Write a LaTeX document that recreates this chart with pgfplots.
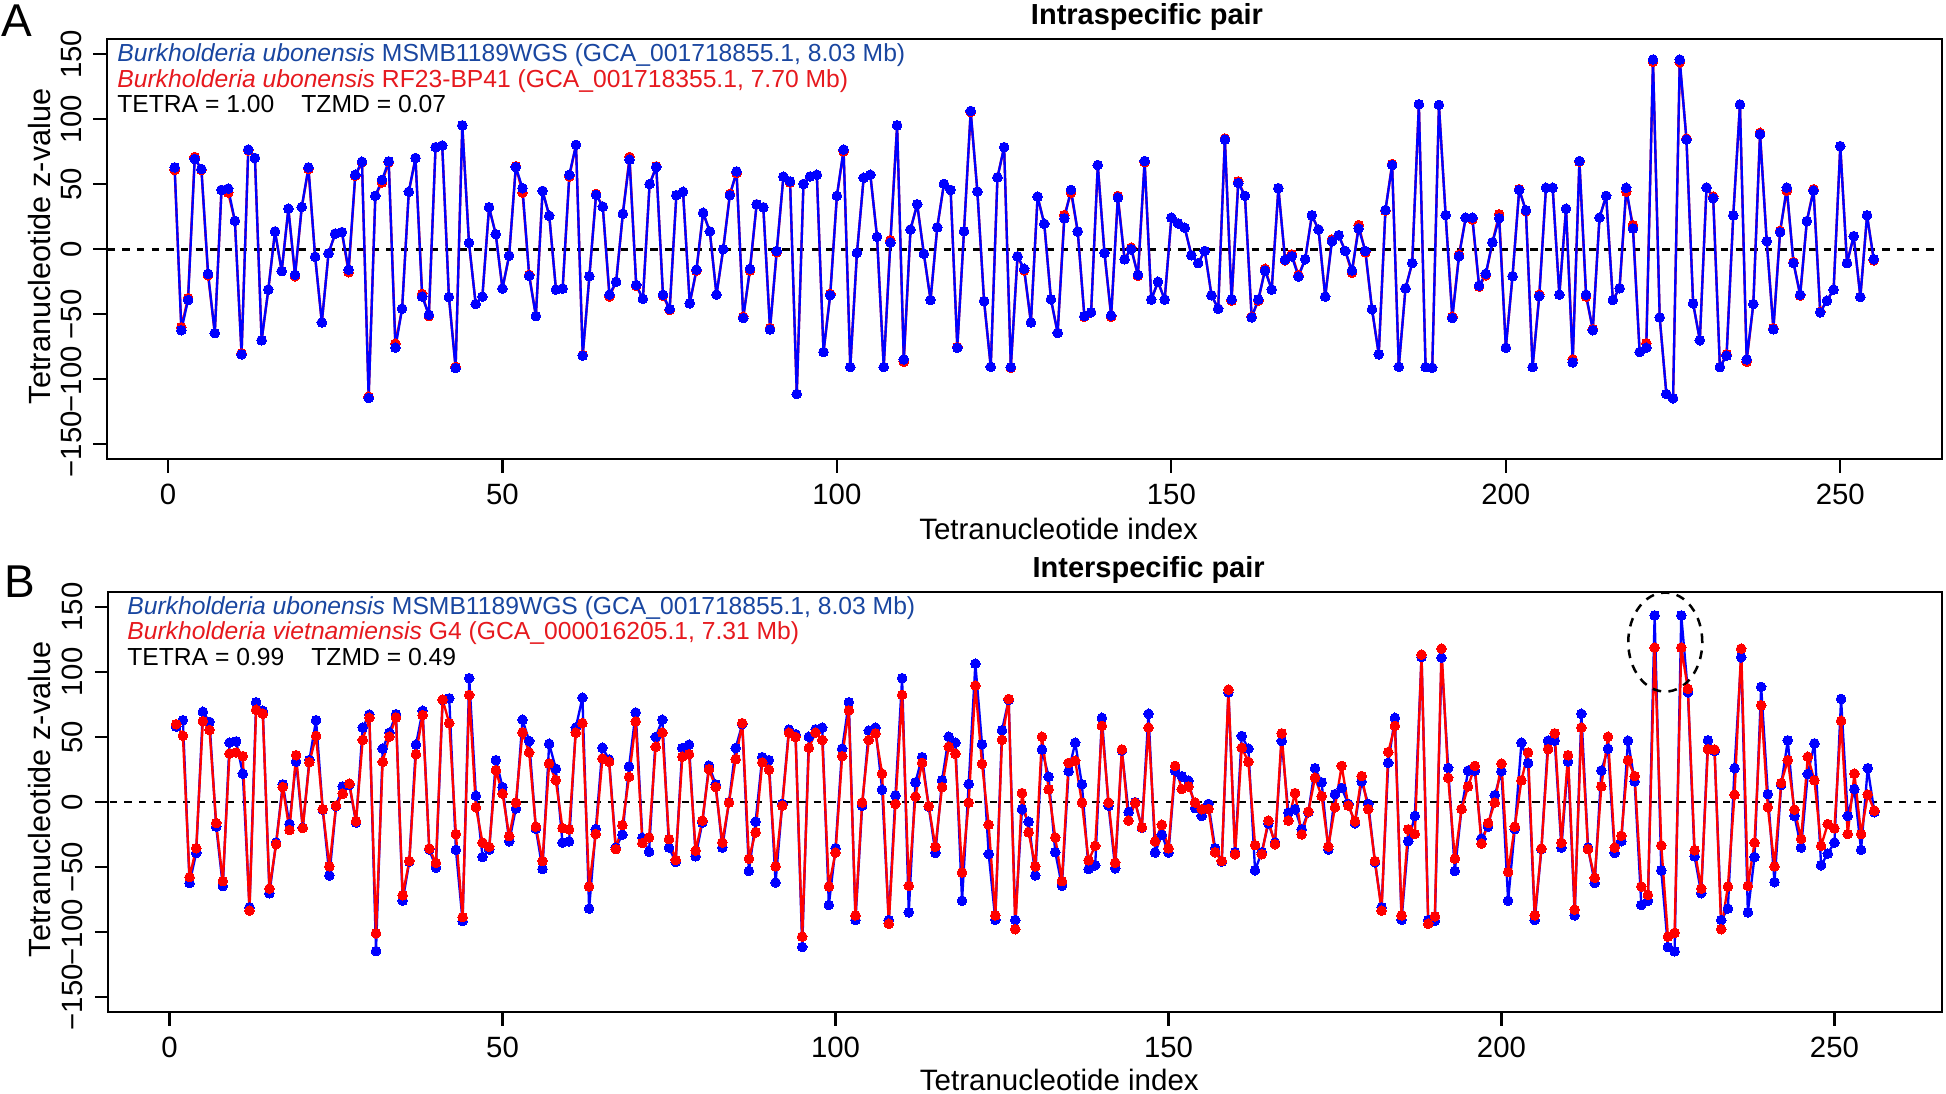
\documentclass[border=0pt]{standalone}
\usepackage{pgfplots}
\usepackage{pgfplotstable}
\pgfplotsset{compat=1.18}
\usepackage{fontspec}
\setmainfont{Liberation Sans}
\definecolor{legblue}{RGB}{25,70,160}
\definecolor{legred}{RGB}{230,25,30}
\definecolor{ptblue}{RGB}{0,0,255}
\definecolor{ptred}{RGB}{255,0,0}

\pgfplotstableread[row sep=\\]{y\\
63.0\\-62.2\\-39.0\\69.5\\61.7\\-18.8\\-64.5\\45.7\\46.7\\21.9\\
-80.8\\76.7\\70.2\\-70.0\\-31.0\\13.7\\-16.8\\31.2\\-19.6\\32.5\\
63.0\\-5.7\\-56.3\\-3.1\\12.1\\13.2\\-15.7\\57.3\\67.4\\-114.4\\
41.1\\53.4\\67.6\\-75.7\\-45.7\\44.2\\70.2\\-36.4\\-50.3\\78.5\\
79.8\\-36.7\\-91.4\\95.3\\4.9\\-42.1\\-36.4\\32.3\\11.6\\-30.2\\
-4.9\\63.3\\47.0\\-20.4\\-51.4\\44.9\\25.8\\-31.0\\-30.2\\57.3\\
80.3\\-81.8\\-20.7\\41.8\\32.8\\-34.9\\-25.0\\27.4\\68.9\\-27.4\\
-38.2\\50.1\\63.3\\-34.9\\-46.0\\41.6\\44.2\\-41.6\\-15.7\\28.1\\
13.7\\-34.9\\0\\41.6\\59.9\\-52.9\\-15.0\\34.6\\32.3\\-61.7\\
-1.3\\55.8\\52.2\\-111.3\\50.3\\56.0\\57.3\\-79.0\\-35.4\\41.1\\
76.7\\-90.6\\-2.8\\55.0\\57.3\\9.6\\-90.6\\5.2\\95.3\\-84.7\\
15.2\\34.6\\-3.4\\-39.0\\16.8\\50.3\\45.7\\-75.7\\13.9\\106.4\\
44.4\\-39.8\\-90.4\\55.3\\78.5\\-90.6\\-5.4\\-15.0\\-56.3\\40.5\\
19.6\\-38.5\\-64.3\\23.8\\45.7\\13.7\\-51.4\\-48.5\\64.8\\-2.8\\
-50.9\\39.8\\-7.7\\0\\-19.6\\67.9\\-38.7\\-25.0\\-38.7\\24.3\\
19.9\\16.5\\-4.6\\-10.6\\-1.3\\-35.4\\-45.7\\84.4\\-38.5\\50.9\\
41.1\\-52.4\\-38.5\\-16.3\\-31.0\\47.0\\-8.0\\-5.4\\-20.9\\-7.7\\
26.1\\15.2\\-36.4\\6.2\\10.8\\-1.3\\-16.3\\16.0\\-1.3\\-46.2\\
-80.8\\30.2\\64.8\\-90.4\\-30.0\\-10.6\\111.5\\-90.6\\-91.1\\111.0\\
26.3\\-52.9\\-5.4\\24.3\\24.3\\-27.9\\-18.8\\5.4\\23.8\\-75.7\\
-20.7\\45.7\\30.0\\-90.6\\-36.1\\47.3\\47.3\\-34.9\\31.2\\-87.0\\
67.9\\-34.9\\-62.2\\24.3\\41.1\\-39.0\\-30.0\\47.3\\16.0\\-79.0\\
-75.7\\145.9\\-52.4\\-111.3\\-114.6\\145.9\\84.4\\-41.6\\-70.0\\47.5\\
39.2\\-90.6\\-81.8\\26.1\\111.3\\-84.7\\-42.1\\88.6\\6.2\\-61.5\\
13.2\\47.5\\-10.6\\-34.9\\21.7\\45.2\\-48.5\\-39.5\\-31.0\\79.3\\
-10.6\\10.1\\-36.7\\26.1\\-7.7\\
}\blueA

\pgfplotstableread[row sep=\\]{y\\
61\\-60\\-37.5\\71\\61\\-20\\-64.5\\45.7\\43.6\\21.9\\
-80\\76\\70.2\\-70.0\\-31.0\\13.7\\-16.8\\31.2\\-20.7\\32.5\\
61.7\\-5.7\\-56.3\\-3.1\\12.1\\13.2\\-17.6\\56.5\\67\\-113.3\\
41.1\\51.4\\67\\-72.6\\-45.7\\44.2\\70.2\\-34.3\\-51.4\\78.5\\
79.8\\-36.7\\-90.4\\95.3\\4.9\\-42.1\\-36.4\\32.3\\11.6\\-30.2\\
-4.9\\63.8\\43.6\\-19.6\\-51.4\\44.9\\25.8\\-31.0\\-30.2\\56\\
80.3\\-81.3\\-20.7\\42.6\\32.8\\-36.4\\-25.0\\27.4\\71\\-28\\
-38.2\\50.1\\63.8\\-35.6\\-46.7\\41.6\\44.2\\-41.6\\-16.5\\28.1\\
13.7\\-34.9\\0\\42.6\\58.6\\-51.9\\-16.3\\34.6\\32.3\\-60.7\\
-2.3\\55.8\\51.4\\-111.3\\50.3\\56.0\\57.3\\-79.0\\-34.3\\41.1\\
75.4\\-90.6\\-2.8\\55.0\\57.3\\9.6\\-90.6\\7\\95.3\\-86.5\\
15.2\\34.6\\-3.4\\-39.0\\16.8\\50.3\\45.7\\-75.1\\13.9\\105.6\\
44.4\\-39.8\\-90.4\\55.3\\78.5\\-91.1\\-5.4\\-16.3\\-56.3\\40.5\\
19.6\\-38.5\\-64.3\\26.3\\43.6\\13.7\\-51.9\\-48.5\\64.8\\-2.8\\
-51.9\\41\\-7.7\\1.3\\-20.4\\67\\-38.7\\-25.0\\-38.7\\24.3\\
19.9\\16.5\\-4.6\\-10.6\\-1.3\\-35.4\\-45.7\\85.2\\-39.5\\52.2\\
41.1\\-51.9\\-39.5\\-15\\-31.0\\47.0\\-8.5\\-3.9\\-19.9\\-7.7\\
26.1\\15.2\\-36.4\\7.5\\10.8\\-1.3\\-18.1\\18.6\\-2.3\\-46.2\\
-80.8\\29.7\\65.6\\-90.4\\-30.0\\-10.6\\111.5\\-90.6\\-91.1\\111.0\\
26.3\\-51.9\\-4.1\\24.3\\23\\-28.7\\-20\\5.4\\26.9\\-75.7\\
-20.7\\46.2\\29.4\\-90.6\\-34.9\\47.3\\47.3\\-34.9\\31.2\\-84.7\\
67.4\\-36.4\\-61.5\\24.3\\41.1\\-39.0\\-30.0\\44.4\\18.6\\-79.0\\
-72.3\\144.3\\-52.4\\-111.3\\-114.6\\143.8\\85.2\\-41.6\\-70.0\\47.5\\
40.5\\-90.6\\-80.8\\26.1\\111.3\\-86.5\\-42.1\\89.6\\6.2\\-60.7\\
14.2\\45.2\\-9.8\\-35.6\\21.7\\46.2\\-48.0\\-39.5\\-31.0\\79.3\\
-10.6\\10.1\\-36.7\\26.1\\-8.5\\
}\redA

\pgfplotstableread[row sep=\\]{y\\
58.1\\
63.0\\-62.2\\-39.0\\69.5\\61.7\\-18.8\\-64.5\\45.7\\46.7\\21.9\\
-80.8\\76.7\\70.2\\-70.0\\-31.0\\13.7\\-16.8\\31.2\\-19.6\\32.5\\
63.0\\-5.7\\-56.3\\-3.1\\12.1\\13.2\\-15.7\\57.3\\67.4\\-114.4\\
41.1\\53.4\\67.6\\-75.7\\-45.7\\44.2\\70.2\\-36.4\\-50.3\\78.5\\
79.8\\-36.7\\-91.4\\95.3\\4.9\\-42.1\\-36.4\\32.3\\11.6\\-30.2\\
-4.9\\63.3\\47.0\\-20.4\\-51.4\\44.9\\25.8\\-31.0\\-30.2\\57.3\\
80.3\\-81.8\\-20.7\\41.8\\32.8\\-34.9\\-25.0\\27.4\\68.9\\-27.4\\
-38.2\\50.1\\63.3\\-34.9\\-46.0\\41.6\\44.2\\-41.6\\-15.7\\28.1\\
13.7\\-34.9\\0\\41.6\\59.9\\-52.9\\-15.0\\34.6\\32.3\\-61.7\\
-1.3\\55.8\\52.2\\-111.3\\50.3\\56.0\\57.3\\-79.0\\-35.4\\41.1\\
76.7\\-90.6\\-2.8\\55.0\\57.3\\9.6\\-90.6\\5.2\\95.3\\-84.7\\
15.2\\34.6\\-3.4\\-39.0\\16.8\\50.3\\45.7\\-75.7\\13.9\\106.4\\
44.4\\-39.8\\-90.4\\55.3\\78.5\\-90.6\\-5.4\\-15.0\\-56.3\\40.5\\
19.6\\-38.5\\-64.3\\23.8\\45.7\\13.7\\-51.4\\-48.5\\64.8\\-2.8\\
-50.9\\39.8\\-7.7\\0\\-19.6\\67.9\\-38.7\\-25.0\\-38.7\\24.3\\
19.9\\16.5\\-4.6\\-10.6\\-1.3\\-35.4\\-45.7\\84.4\\-38.5\\50.9\\
41.1\\-52.4\\-38.5\\-16.3\\-31.0\\47.0\\-8.0\\-5.4\\-20.9\\-7.7\\
26.1\\15.2\\-36.4\\6.2\\10.8\\-1.3\\-16.3\\16.0\\-1.3\\-46.2\\
-80.8\\30.2\\64.8\\-90.4\\-30.0\\-10.6\\111.5\\-90.6\\-91.1\\111.0\\
26.3\\-52.9\\-5.4\\24.3\\24.3\\-27.9\\-18.8\\5.4\\23.8\\-75.7\\
-20.7\\45.7\\30.0\\-90.6\\-36.1\\47.3\\47.3\\-34.9\\31.2\\-87.0\\
67.9\\-34.9\\-62.2\\24.3\\41.1\\-39.0\\-30.0\\47.3\\16.0\\-79.0\\
-75.7\\143.5\\-52.4\\-111.3\\-114.6\\143.5\\84.4\\-41.6\\-70.0\\47.5\\
39.2\\-90.6\\-81.8\\26.1\\111.3\\-84.7\\-42.1\\88.6\\6.2\\-61.5\\
13.2\\47.5\\-10.6\\-34.9\\21.7\\45.2\\-48.5\\-39.5\\-31.0\\79.3\\
-10.6\\10.1\\-36.7\\26.1\\-7.7\\
}\blueB

\pgfplotstableread[row sep=\\]{y\\
59.9\\51.1\\-57.6\\-35.4\\62.2\\55.5\\-16.0\\-60.7\\37.4\\38.2\\
35.4\\-83.4\\71.0\\67.9\\-66.4\\-32.3\\11.6\\-21.4\\36.1\\-19.9\\
30.7\\50.9\\-5.4\\-49.3\\-2.8\\6.5\\14.2\\-14.7\\47.8\\64.8\\
-100.7\\31.0\\50.3\\65.1\\-71.5\\-45.2\\36.9\\66.9\\-35.6\\-46.7\\
78.8\\60.7\\-24.5\\-88.3\\82.4\\-3.9\\-31.0\\-34.3\\24.5\\6.5\\
-26.1\\-0.3\\53.7\\38.2\\-18.8\\-45.2\\29.7\\16.8\\-19.9\\-20.9\\
53.4\\60.7\\-64.8\\-24.5\\33.6\\31.0\\-36.1\\-17.6\\19.4\\62.0\\
-31.5\\-27.1\\42.6\\53.4\\-28.4\\-44.4\\34.9\\36.9\\-37.2\\-14.2\\
25.3\\11.6\\-31.0\\-0.3\\33.0\\60.7\\-43.4\\-23.2\\30.5\\25.0\\
-49.3\\-2.6\\53.4\\50.1\\-103.3\\41.8\\53.4\\47.8\\-64.8\\-38.7\\
35.4\\70.5\\-87.0\\-0.3\\47.8\\52.9\\21.9\\-93.5\\-1.3\\82.4\\
-64.3\\4.4\\30.2\\-3.1\\-34.3\\11.6\\42.6\\37.2\\-54.0\\-0.3\\
89.6\\29.4\\-17.3\\-87.0\\47.8\\79.3\\-97.6\\7.0\\-23.2\\-49.3\\
50.3\\9.8\\-27.1\\-60.7\\30.2\\31.8\\-0.3\\-44.7\\-33.6\\58.6\\
-0.3\\-46.5\\40.5\\-14.2\\-0.5\\-19.4\\57.3\\-30.2\\-17.3\\-35.4\\
27.9\\10.1\\12.1\\-0.3\\-5.4\\-5.2\\-38.5\\-45.2\\86.5\\-40.0\\
41.8\\31.0\\-33.0\\-40.0\\-14.2\\-32.3\\52.9\\-14.2\\7.0\\-24.8\\
-7.2\\18.8\\4.6\\-34.1\\-3.9\\27.9\\-2.6\\-14.7\\20.1\\-5.4\\
-45.2\\-83.4\\38.5\\58.6\\-87.0\\-20.9\\-24.5\\113.4\\-93.5\\-87.8\\
118.0\\18.8\\-43.4\\-5.4\\12.1\\27.9\\-31.8\\-16.0\\-0.3\\29.7\\
-53.7\\-18.8\\16.8\\38.2\\-87.0\\-35.6\\40.8\\52.9\\-31.2\\36.1\\
-82.6\\57.3\\-36.1\\-58.1\\12.1\\50.3\\-34.9\\-25.8\\32.3\\20.1\\
-64.8\\-71.3\\118.8\\-33.3\\-103.3\\-100.4\\118.8\\87.0\\-36.9\\-66.4\\
40.8\\40.5\\-97.6\\-64.8\\5.7\\118.0\\-64.3\\-31.2\\74.4\\-3.9\\
-49.3\\14.7\\32.3\\-5.7\\-28.1\\34.9\\16.8\\-33.6\\-16.8\\-20.1\\
62.5\\-24.5\\21.9\\-24.5\\5.9\\-6.5\\
}\redB

\pgfplotsset{
  panel/.style={
    scale only axis, anchor=north west,
    ymin=-161.5, ymax=161.5,
    axis line style={line width=0.65pt},
    tick align=outside, tick pos=left, major tick length=4pt,
    tick style={black, line width=0.65pt},
    xtick={0,50,100,150,200,250}, xticklabels={0,50,100,150,200,250},
    ytick={-150,-100,-50,0,50,100,150},
    yticklabels={−150,−100,−50,0,50,100,150},
    yticklabel style={rotate=90, anchor=south},
    ticklabel style={font=\fontsize{8.8}{10}\selectfont},
    clip=true,
  },
  ser/.style={color=#1, line width=0.7pt, line join=round, mark=*, mark size=1.45pt,
    mark options={solid, fill=#1, draw=#1, line width=0pt}},
}

\begin{document}
\begin{tikzpicture}
\path[use as bounding box] (0pt,0pt) rectangle (583.8pt,-328.2pt);

% Panel A
\begin{axis}[panel, at={(32.01pt,-11.79pt)}, width=550.5pt, height=126pt,
  xmin=-9.16, xmax=265.16]
\addplot[black, line width=0.75pt, dash pattern=on 2.2pt off 2.2pt] coordinates {(-20,0) (280,0)};
\addplot[ser=ptred] table[x expr=\coordindex+1, y=y] {\redA};
\addplot[ser=ptblue] table[x expr=\coordindex+1, y=y] {\blueA};
\end{axis}

% Panel B
\begin{axis}[panel, at={(32.49pt,-177.6pt)}, width=550.2pt, height=126.1pt,
  xmin=-9.2, xmax=266.2]
\addplot[black, line width=0.75pt, dash pattern=on 2.2pt off 2.2pt] coordinates {(-20,0) (280,0)};
\addplot[ser=ptblue] table[x expr=\coordindex+1, y=y] {\blueB};
\addplot[ser=ptred] table[x expr=\coordindex+1, y=y] {\redB};
\draw[black, line width=0.75pt, dash pattern=on 2.6pt off 2.2pt] (axis cs:224.6,123) ellipse [x radius=11.1pt, y radius=14.85pt];
\end{axis}

% Panel letters
\node[font=\fontsize{13.8}{15}\selectfont, inner sep=0] at (5.2pt,-6.1pt) {A};
\node[font=\fontsize{13.8}{15}\selectfont, inner sep=0] at (6pt,-174.6pt) {B};

% Titles
\node[font=\bfseries\fontsize{8.7}{10}\selectfont, anchor=base, inner sep=0] at (344.1pt,-7.3pt) {Intraspecific pair};
\node[font=\bfseries\fontsize{8.7}{10}\selectfont, anchor=base, inner sep=0] at (344.6pt,-173.3pt) {Interspecific pair};

% Axis labels
\node[font=\fontsize{8.85}{10}\selectfont, anchor=base, inner sep=0] at (317.6pt,-161.9pt) {Tetranucleotide index};
\node[font=\fontsize{8.85}{10}\selectfont, anchor=base, inner sep=0] at (317.8pt,-327pt) {Tetranucleotide index};
\node[font=\fontsize{9.2}{10}\selectfont, anchor=base, inner sep=0, rotate=90] at (15.1pt,-73.9pt) {Tetranucleotide z-value};
\node[font=\fontsize{9.2}{10}\selectfont, anchor=base, inner sep=0, rotate=90] at (15.1pt,-239.8pt) {Tetranucleotide z-value};

% Legend text
\begin{scope}[every node/.style={anchor=base west, inner sep=0, font=\fontsize{7.4}{8}\selectfont}]
\node[text=legblue] at (35pt,-18.5pt) {\textit{Burkholderia ubonensis} MSMB1189WGS (GCA\_001718855.1, 8.03 Mb)};
\node[text=legred] at (35pt,-26.2pt) {\textit{Burkholderia ubonensis} RF23-BP41 (GCA\_001718355.1, 7.70 Mb)};
\node[text=black] at (35pt,-33.8pt) {TETRA = 1.00\hspace{1.1em}TZMD = 0.07};
\node[text=legblue] at (38pt,-184.3pt) {\textit{Burkholderia ubonensis} MSMB1189WGS (GCA\_001718855.1, 8.03 Mb)};
\node[text=legred] at (38pt,-192pt) {\textit{Burkholderia vietnamiensis} G4 (GCA\_000016205.1, 7.31 Mb)};
\node[text=black] at (38pt,-199.6pt) {TETRA = 0.99\hspace{1.1em}TZMD = 0.49};
\end{scope}
\end{tikzpicture}
\end{document}
